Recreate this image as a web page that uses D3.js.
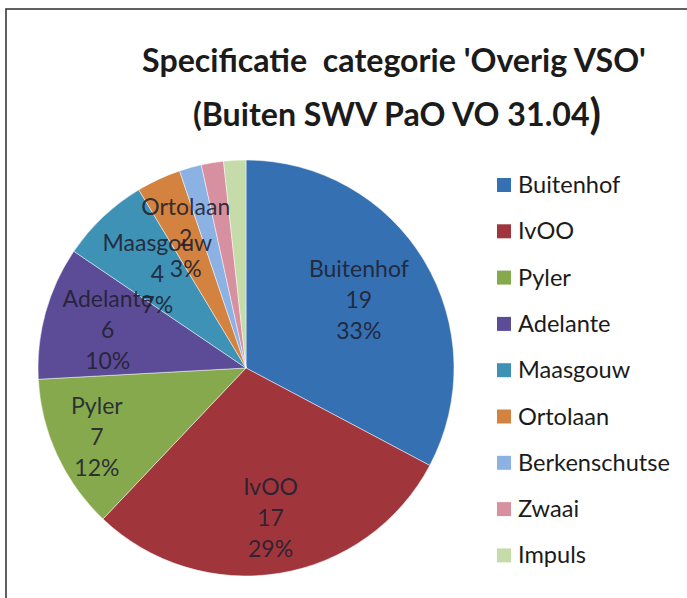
<!DOCTYPE html>
<html>
<head>
<meta charset="utf-8">
<script src="https://cdn.jsdelivr.net/npm/d3@7"></script>
<style>
  html, body { margin: 0; padding: 0; background: #fff; }
  svg { display: block; }
</style>
</head>
<body>
<script>
// chart data
var categories = ['Buitenhof', 'IvOO', 'Pyler', 'Adelante', 'Maasgouw', 'Ortolaan', 'Berkenschutse', 'Zwaai', 'Impuls'];
var values = [19, 17, 7, 6, 4, 2, 1, 1, 1];
var colors = ['#3570b2', '#a0363c', '#86a94d', '#5c4c97', '#3d92b6', '#d3823f', '#8bb2e3', '#d7909f', '#c5dbaa'];
var titleLines = ["Specificatie  categorie 'Overig VSO'", '(Buiten SWV PaO VO 31.04'];
// slices that carry a data label, and how far out along the slice the label sits
var labelled = ['Buitenhof', 'IvOO', 'Pyler', 'Adelante', 'Maasgouw', 'Ortolaan'];
var labelRadius = [0.633, 0.73, 0.79, 0.69, 0.62, 0.69];

var width = 687, height = 598;
var cx = 246, cy = 368, r = 208;

var svg = d3.select('body')
  .append('svg')
  .attr('width', width)
  .attr('height', height);

// chart frame, runs off the right and bottom edge like the scan
svg.append('rect')
  .attr('x', 6)
  .attr('y', 9)
  .attr('width', 720)
  .attr('height', 640)
  .attr('fill', '#fff')
  .attr('stroke', '#3a3a3a')
  .attr('stroke-width', 1.6);

// helper: fit a text node to a target width by changing its font size
function fitWidth(sel, target) {
  var w = sel.node().getComputedTextLength();
  var fs = parseFloat(sel.attr('font-size'));
  sel.attr('font-size', fs * target / w);
}

var font = 'Lato, "Open Sans", "DejaVu Sans", sans-serif';

// title
var t1 = svg.append('text')
  .attr('x', 394)
  .attr('y', 72)
  .attr('text-anchor', 'middle')
  .attr('font-family', font)
  .attr('font-weight', 'bold')
  .attr('font-size', 30)
  .attr('fill', '#1b1b1b')
  .style('white-space', 'pre')
  .text(titleLines[0]);
fitWidth(t1, 504);

var t2 = svg.append('text')
  .attr('x', 397)
  .attr('y', 126)
  .attr('text-anchor', 'middle')
  .attr('font-family', font)
  .attr('font-weight', 'bold')
  .attr('font-size', t1.attr('font-size'))
  .attr('fill', '#1b1b1b');
t2.append('tspan').text(titleLines[1]);
t2.append('tspan')
  .attr('font-size', parseFloat(t1.attr('font-size')) * 1.3)
  .attr('dy', 3)
  .text(')');

// pie
var total = d3.sum(values);
var pie = d3.pie().sort(null).value(function(d) { return d.value; });
var arc = d3.arc().innerRadius(0).outerRadius(r);

var data = categories.map(function(c, i) {
  return {name: c, value: values[i], color: colors[i]};
});
var arcs = pie(data);

var g = svg.append('g').attr('transform', 'translate(' + cx + ',' + cy + ')');

g.selectAll('path')
  .data(arcs)
  .enter()
  .append('path')
  .attr('d', arc)
  .attr('fill', function(d) { return d.data.color; })
  .attr('stroke', '#ffffff')
  .attr('stroke-opacity', 0.6)
  .attr('stroke-width', 0.8);

// work out the label font size from the width of "Buitenhof" in the scan
var probe = svg.append('text')
  .attr('font-family', font)
  .attr('font-size', 20)
  .text('Buitenhof');
var labelSize = 20 * 100 / probe.node().getComputedTextLength();
probe.remove();

// data labels: name, value, percentage, stacked in three lines
var labelArcs = arcs.filter(function(d) { return labelled.indexOf(d.data.name) >= 0; });
var labels = g.selectAll('text.lbl')
  .data(labelArcs)
  .enter()
  .append('text')
  .attr('class', 'lbl')
  .attr('text-anchor', 'middle')
  .attr('font-family', font)
  .attr('font-size', labelSize)
  .attr('fill', '#202030')
  .attr('fill-opacity', 0.9)
  .attr('transform', function(d, i) {
    var a = (d.startAngle + d.endAngle) / 2;
    var rr = r * labelRadius[i];
    return 'translate(' + (Math.sin(a) * rr) + ',' + (-Math.cos(a) * rr) + ')';
  });

labels.each(function(d) {
  var lines = [d.data.name, d.data.value, Math.round(d.data.value / total * 100) + '%'];
  var el = d3.select(this);
  lines.forEach(function(s, k) {
    el.append('tspan')
      .attr('x', 0)
      .attr('y', (k - 1) * 31 + 8)
      .text(s);
  });
});

// legend
var legend = svg.append('g').attr('transform', 'translate(497,185)');
var rows = legend.selectAll('g')
  .data(data)
  .enter()
  .append('g')
  .attr('transform', function(d, i) { return 'translate(0,' + (i * 46.3) + ')'; });

rows.append('rect')
  .attr('x', 0)
  .attr('y', -7)
  .attr('width', 14)
  .attr('height', 14)
  .attr('fill', function(d) { return d.color; });

var legendText = rows.append('text')
  .attr('x', 21)
  .attr('y', 8)
  .attr('font-family', font)
  .attr('font-size', 22)
  .attr('fill', '#1b1b1b')
  .text(function(d) { return d.name; });

// scale legend font so the longest name matches the reference width
var longest = legendText.filter(function(d) { return d.name === 'Berkenschutse'; });
var lw = longest.node().getComputedTextLength();
legendText.attr('font-size', 22 * 152 / lw);
</script>
</body>
</html>
